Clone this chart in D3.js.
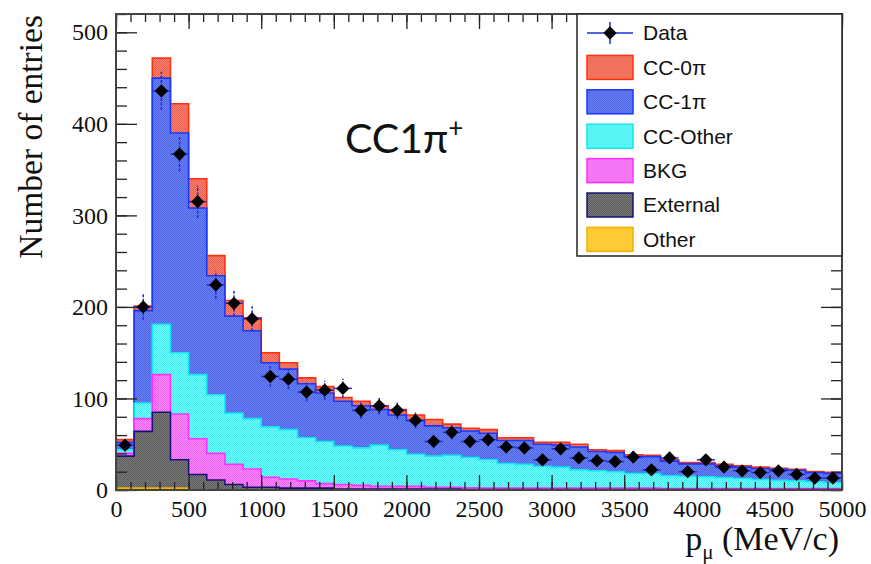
<!DOCTYPE html>
<html>
<head>
<meta charset="utf-8">
<script src="https://cdn.jsdelivr.net/npm/d3@7"></script>
<style>
body { margin: 0; background: #fff; }
</style>
</head>
<body>
<svg id="chart" width="871" height="564"></svg>
<script>
// p_mu distribution, 40 bins of 125 MeV/c from 0 to 5000
let binW = 125
let data = [49, 200, 436, 367, 315, 224, 204, 187, 124, 121, 107, 109, 111, 87, 92, 87, 76, 53, 63, 53,
  55, 47, 46, 33, 45, 35, 32, 31, 36, 22, 35, 20, 33, 25, 21, 19, 21, 17, 13, 13]
let other = [2, 2, 2, 2, 0, 0, 0, 0, 0, 0, 0, 0, 0, 0, 0, 0, 0, 0, 0, 0,
  0, 0, 0, 0, 0, 0, 0, 0, 0, 0, 0, 0, 0, 0, 0, 0, 0, 0, 0, 0]
let external = [35, 62, 83, 31, 17, 11, 6, 3, 3, 2, 2, 2, 1, 1, 1, 1, 1, 1, 1, 0.5,
  0.5, 0.5, 0.5, 0.5, 0.5, 0.5, 0.5, 0.5, 0.5, 0.5, 0.5, 0.5, 0.5, 0.5, 0.5, 0.5, 0.5, 0.5, 0.5, 0.5]
let bkg = [3, 14, 41, 50, 39, 29, 22, 20, 11, 10, 8, 5, 5, 4, 3, 3, 3, 2, 2, 2,
  1.5, 1.5, 1.5, 1.5, 1.5, 1.5, 1.5, 1.5, 1.5, 1.5, 1, 1, 1, 1, 1, 1, 1, 1, 1, 1]
let ccOther = [4, 17, 55, 67, 70, 64, 56, 55, 55, 54, 47, 46, 42, 41, 45, 40, 35, 34, 35, 33,
  31, 27, 26, 24, 23, 20, 19, 18, 16, 16, 14, 13.5, 13, 12, 11, 10, 9, 8.5, 7.5, 6.7]
let cc1pi = [8, 101, 269, 240, 182, 130, 106, 96, 70, 66, 59, 53, 49, 46, 39, 38, 37, 33, 30, 29,
  29, 25, 26, 24, 24, 25, 21, 21, 18.5, 18.5, 16, 13.5, 14, 13, 12.5, 12, 12, 11.5, 10, 10]
let cc0pi = [3, 5, 22, 32, 32, 22, 17, 14, 11, 7, 6.5, 7, 4, 5, 4, 6, 6, 7, 4, 3,
  4, 3, 3, 2, 3, 3, 2, 2, 2, 1.5, 1.5, 1.5, 1.5, 1.5, 1.5, 1.5, 1.2, 1.2, 1.1, 1.1]

let xTicks = [0, 500, 1000, 1500, 2000, 2500, 3000, 3500, 4000, 4500, 5000]
let yTicks = [0, 100, 200, 300, 400, 500]

// stack bottom -> top
let keys = ['other', 'external', 'bkg', 'ccOther', 'cc1pi', 'cc0pi']
let fills = { other: '#ffd54a', external: '#7c7c7c', bkg: '#f98cf7', ccOther: '#72f9f9', cc1pi: '#6b80ef', cc0pi: '#f38270' }
let dots = { other: '#ffc020', external: '#5a5a5a', bkg: '#f060f0', ccOther: '#40f0f0', cc1pi: '#4d66ea', cc0pi: '#f0604a' }
let lines = { other: '#f0b000', external: '#141478', bkg: '#ff30ff', ccOther: '#10e8f0', cc1pi: '#1a38ff', cc0pi: '#ff3010' }
let legendItems = [
  { key: 'cc0pi', label: 'CC-0π' },
  { key: 'cc1pi', label: 'CC-1π' },
  { key: 'ccOther', label: 'CC-Other' },
  { key: 'bkg', label: 'BKG' },
  { key: 'external', label: 'External' },
  { key: 'other', label: 'Other' }
]

let svg = d3.select('#chart')
let x = d3.scaleLinear().domain([0, 5000]).range([116, 842])
let y = d3.scaleLinear().domain([0, 520]).range([490, 14])

// checker fill, a bit like ROOT's 3001 style
let defs = svg.append('defs')
keys.forEach(k => {
  let p = defs.append('pattern')
    .attr('id', 'pat-' + k)
    .attr('width', 2).attr('height', 2)
    .attr('patternUnits', 'userSpaceOnUse')
  p.append('rect').attr('width', 2).attr('height', 2).attr('fill', fills[k])
  p.append('rect').attr('width', 1).attr('height', 1).attr('fill', dots[k])
  p.append('rect').attr('x', 1).attr('y', 1).attr('width', 1).attr('height', 1).attr('fill', dots[k])
})

let rows = data.map((d, i) => ({
  other: other[i], external: external[i], bkg: bkg[i],
  ccOther: ccOther[i], cc1pi: cc1pi[i], cc0pi: cc0pi[i]
}))
let series = d3.stack().keys(keys)(rows)

// step points on bin lower edges, plus closing edge at 5000
function stepPts(layer) {
  let pts = layer.map((d, i) => ({ lo: i * binW, v0: d[0], v1: d[1] }))
  let last = layer[layer.length - 1]
  pts.push({ lo: layer.length * binW, v0: last[0], v1: last[1] })
  return pts
}

let area = d3.area()
  .curve(d3.curveStepAfter)
  .x(d => x(d.lo))
  .y0(d => y(d.v0))
  .y1(d => y(d.v1))

let outline = d3.line()
  .curve(d3.curveStepAfter)
  .x(d => x(d.lo))
  .y(d => y(d.v))

let hist = svg.append('g')
hist.selectAll('path.fill')
  .data(series)
  .enter()
  .append('path')
  .attr('class', 'fill')
  .attr('d', s => area(stepPts(s)))
  .attr('fill', s => 'url(#pat-' + s.key + ')')

// outlines: top histogram first, lower ones drawn over it
hist.selectAll('path.edge')
  .data(series.slice().reverse())
  .enter()
  .append('path')
  .attr('class', 'edge')
  .attr('d', s => {
    let pts = stepPts(s).map(p => ({ lo: p.lo, v: p.v1 }))
    pts.unshift({ lo: 0, v: 0 })
    pts.push({ lo: 5000, v: 0 })
    return outline(pts)
  })
  .attr('fill', 'none')
  .attr('stroke', s => lines[s.key])
  .attr('stroke-width', 1.6)

// axes, ROOT style ticks pointing inward
let minorX = d3.range(0, 5001, 100)
let minorY = d3.range(0, 521, 20)
let axes = svg.append('g')

axes.append('g').attr('transform', 'translate(0,490)')
  .call(d3.axisBottom(x).tickValues(minorX).tickSize(-8).tickSizeOuter(0).tickFormat(''))
axes.append('g').attr('transform', 'translate(0,490)')
  .call(d3.axisBottom(x).tickValues(xTicks).tickSize(-15).tickSizeOuter(0).tickPadding(10).tickFormat(d3.format('d')))
axes.append('g').attr('transform', 'translate(0,14)')
  .call(d3.axisTop(x).tickValues(minorX).tickSize(-8).tickSizeOuter(0).tickFormat(''))
axes.append('g').attr('transform', 'translate(0,14)')
  .call(d3.axisTop(x).tickValues(xTicks).tickSize(-15).tickSizeOuter(0).tickFormat(''))
axes.append('g').attr('transform', 'translate(116,0)')
  .call(d3.axisLeft(y).tickValues(minorY).tickSize(-11).tickSizeOuter(0).tickFormat(''))
axes.append('g').attr('transform', 'translate(116,0)')
  .call(d3.axisLeft(y).tickValues(yTicks).tickSize(-21).tickSizeOuter(0).tickPadding(8).tickFormat(d3.format('d')))
axes.append('g').attr('transform', 'translate(842,0)')
  .call(d3.axisRight(y).tickValues(minorY).tickSize(-11).tickSizeOuter(0).tickFormat(''))
axes.append('g').attr('transform', 'translate(842,0)')
  .call(d3.axisRight(y).tickValues(yTicks).tickSize(-21).tickSizeOuter(0).tickFormat(''))

axes.selectAll('.domain').remove()
axes.selectAll('.tick line').attr('stroke', '#222').attr('stroke-width', 1.3)
axes.selectAll('.tick text').attr('fill', '#111').style('font-family', '"Liberation Serif", serif').style('font-size', '24px')

// frame
svg.append('rect')
  .attr('x', 116).attr('y', 14)
  .attr('width', 842 - 116).attr('height', 490 - 14)
  .attr('fill', 'none')
  .attr('stroke', '#444')
  .attr('stroke-width', 2)

// data points with errors
let pts = svg.append('g')
let diamond = d3.symbol(d3.symbolSquare, 88)
let errs = pts.selectAll('g.pt')
  .data(data)
  .enter()
  .append('g')
  .attr('class', 'pt')
errs.append('line')
  .attr('x1', (d, i) => x(i * binW))
  .attr('x2', (d, i) => x((i + 1) * binW))
  .attr('y1', d => y(d)).attr('y2', d => y(d))
  .attr('stroke', '#1d2fd0').attr('stroke-width', 1.5)
errs.append('line')
  .attr('x1', (d, i) => x((i + 0.5) * binW))
  .attr('x2', (d, i) => x((i + 0.5) * binW))
  .attr('y1', d => y(d - Math.sqrt(d)))
  .attr('y2', d => y(d + Math.sqrt(d)))
  .attr('stroke', '#1d2fd0').attr('stroke-width', 1.5)
  .attr('stroke-dasharray', '3,1.5')
errs.append('path')
  .attr('d', diamond)
  .attr('transform', (d, i) => `translate(${x((i + 0.5) * binW)},${y(d)}) rotate(45)`)
  .attr('fill', '#000')

// axis titles
svg.append('text')
  .attr('transform', 'translate(42,15) rotate(-90)')
  .attr('text-anchor', 'end')
  .style('font-family', '"Liberation Serif", serif')
  .style('font-size', '33.5px')
  .attr('fill', '#111')
  .text('Number of entries')

let xt = svg.append('text')
  .attr('x', 839).attr('y', 550)
  .attr('text-anchor', 'end')
  .style('font-family', '"Liberation Serif", serif')
  .style('font-size', '34px')
  .attr('fill', '#111')
xt.append('tspan').text('p')
xt.append('tspan').attr('dy', 9).style('font-size', '21px').text('μ')
xt.append('tspan').attr('dy', -9).text(' (MeV/c)')

// label
let lab = svg.append('text')
  .attr('x', 345).attr('y', 153)
  .style('font-family', 'Lato, "Open Sans", sans-serif')
  .style('font-size', '41px')
  .attr('fill', '#111')
lab.append('tspan').text('CC1π')
lab.append('tspan').attr('dy', -16).style('font-size', '26px').text('+')

// legend
let lg = svg.append('g')
  .style('font-family', '"Liberation Sans", Arial, sans-serif')
  .style('font-size', '21px')
lg.append('rect')
  .attr('x', 577).attr('y', 14)
  .attr('width', 842 - 577).attr('height', 242)
  .attr('fill', '#fff').attr('stroke', '#222').attr('stroke-width', 1.5)

let rowH = 34.4
lg.append('line').attr('x1', 587).attr('x2', 633).attr('y1', 33).attr('y2', 33)
  .attr('stroke', '#1d2fd0').attr('stroke-width', 1.5)
lg.append('line').attr('x1', 610).attr('x2', 610).attr('y1', 22).attr('y2', 44)
  .attr('stroke', '#1d2fd0').attr('stroke-width', 1.5)
lg.append('path').attr('d', diamond).attr('transform', 'translate(610,33) rotate(45)').attr('fill', '#000')
lg.append('text').attr('x', 643).attr('y', 33).attr('dy', '0.35em').attr('fill', '#111').text('Data')

let items = lg.selectAll('g.item')
  .data(legendItems)
  .enter()
  .append('g')
  .attr('class', 'item')
  .attr('transform', (d, i) => `translate(0,${33 + (i + 1) * rowH})`)
items.append('rect')
  .attr('x', 587).attr('y', -12)
  .attr('width', 46).attr('height', 24)
  .attr('fill', d => 'url(#pat-' + d.key + ')')
  .attr('stroke', d => lines[d.key]).attr('stroke-width', 1.5)
items.append('text')
  .attr('x', 643).attr('dy', '0.35em')
  .attr('fill', '#111')
  .text(d => d.label)
</script>
</body>
</html>
